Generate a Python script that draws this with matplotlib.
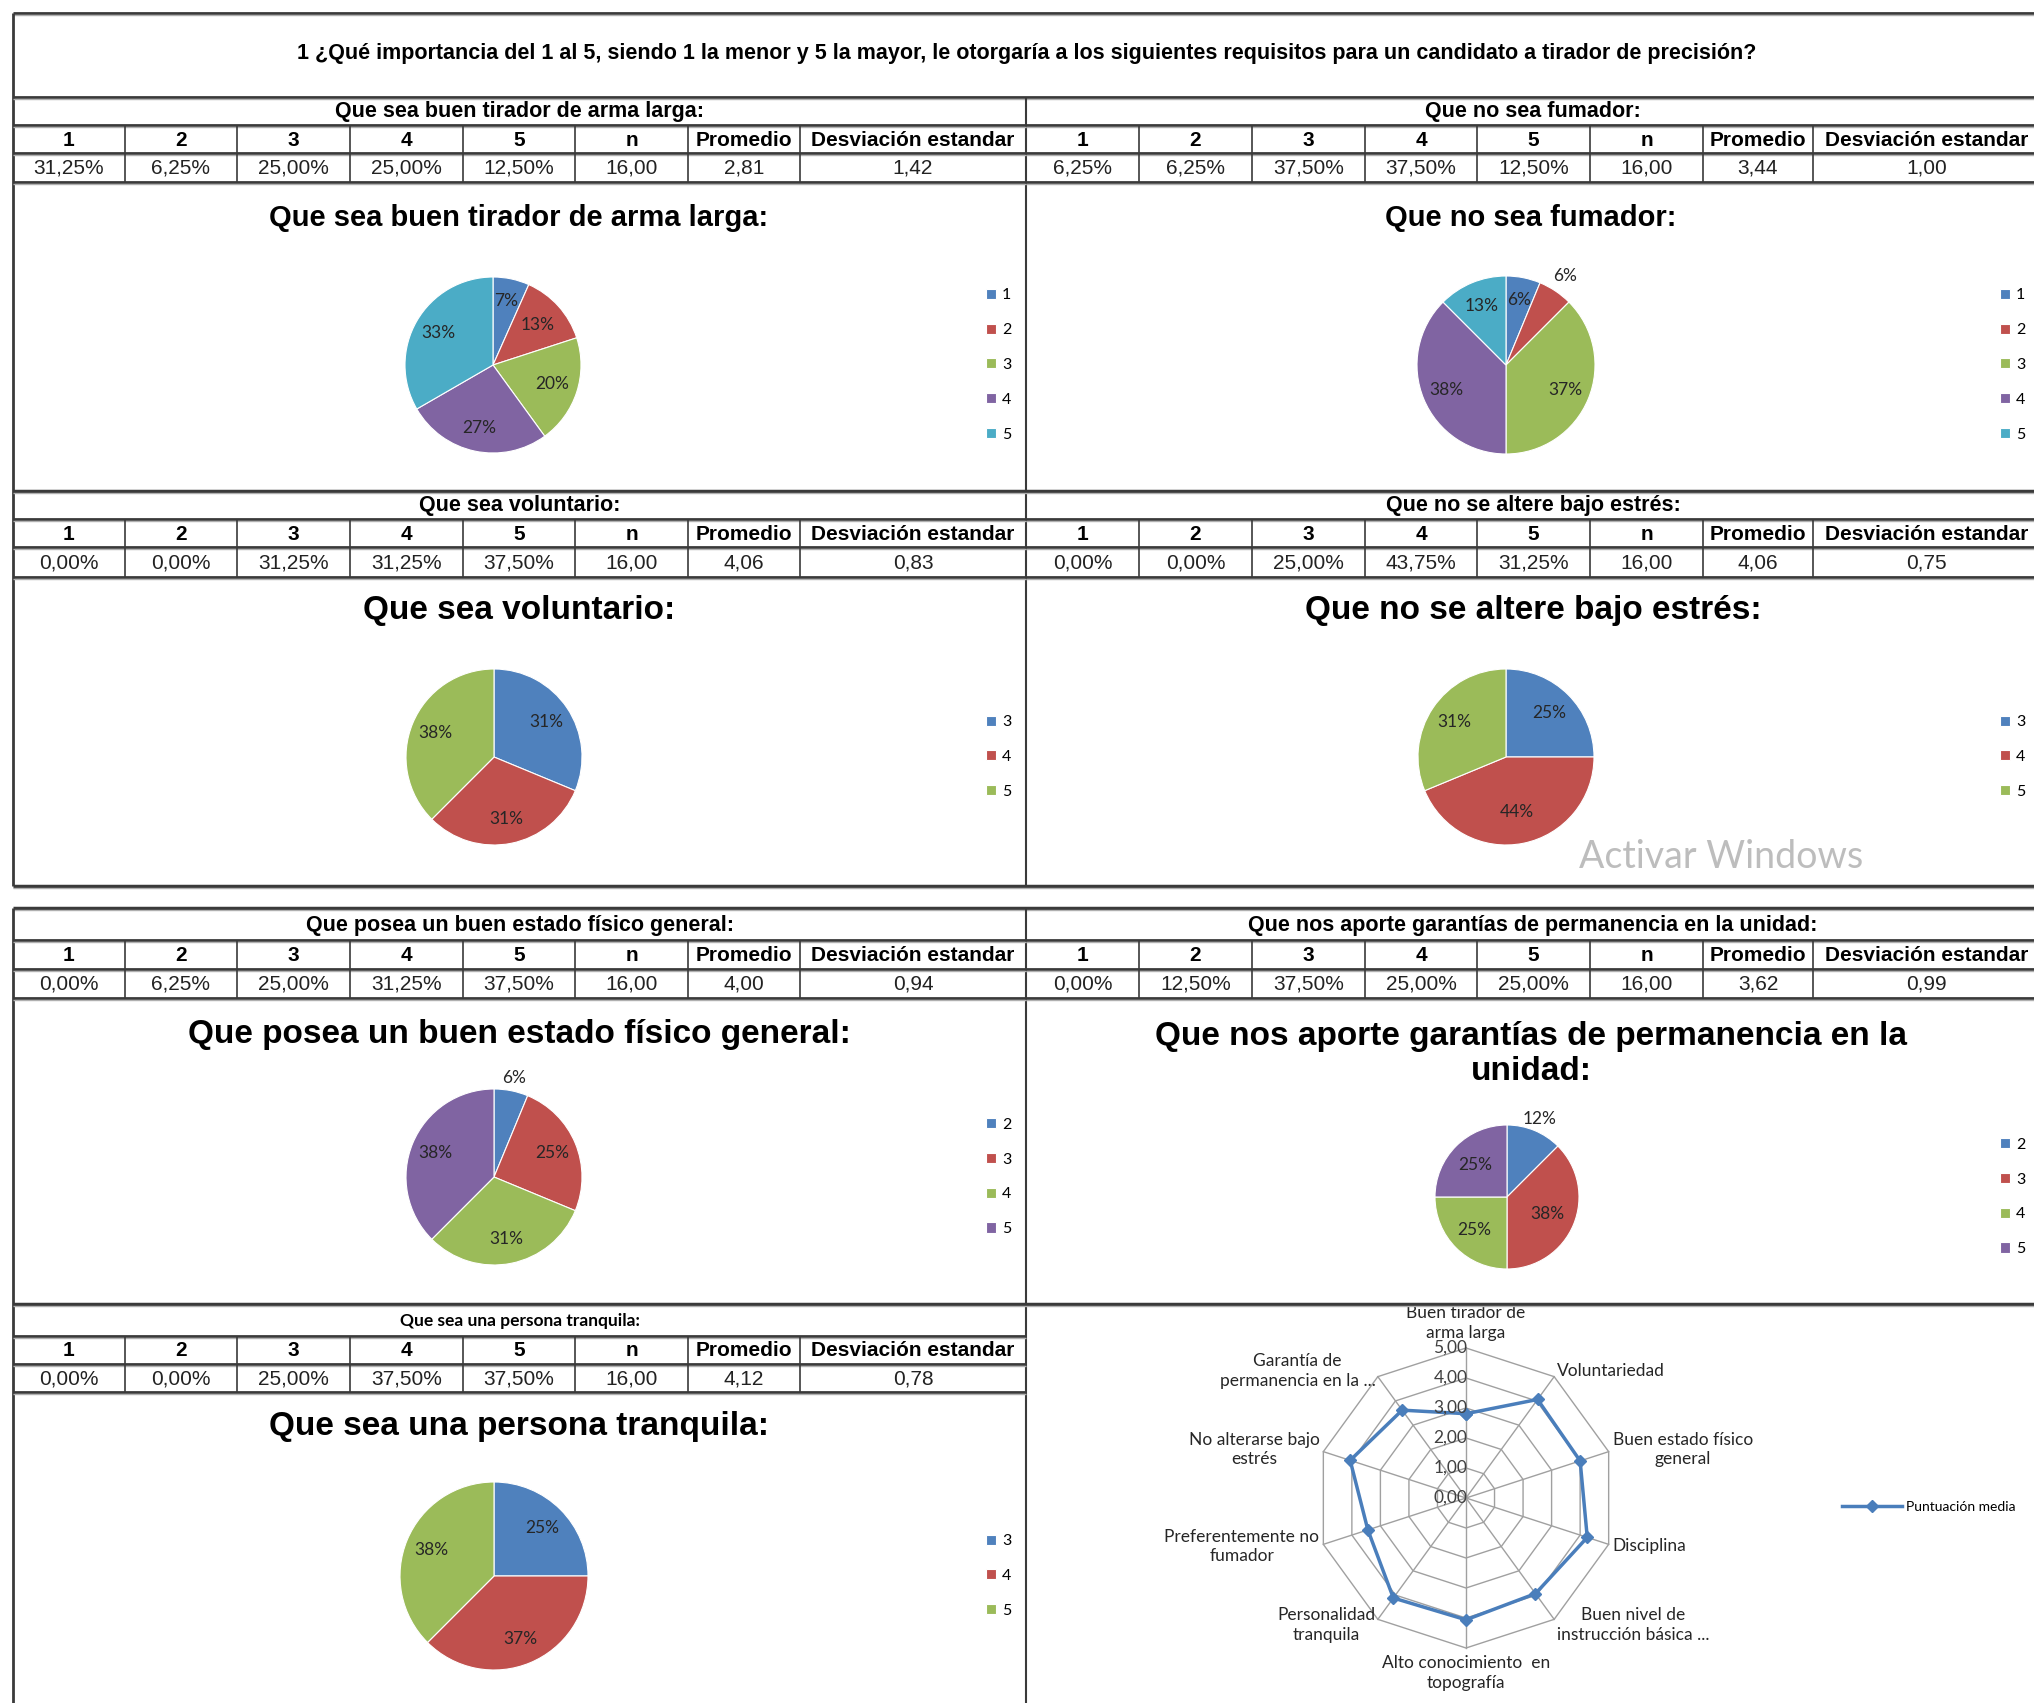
import numpy as np
import matplotlib
matplotlib.use('Agg')
import matplotlib.pyplot as plt
from matplotlib.lines import Line2D

plt.rcParams['font.family'] = ['Liberation Sans', 'DejaVu Sans']
CAL = ['Lato', 'DejaVu Sans']

W, H = 2034, 1703

question = ('1 ¿Qué importancia del 1 al 5, siendo 1 la menor y 5 la mayor, le otorgaría '
            'a los siguientes requisitos para un candidato a tirador de precisión?')
headers = ['1', '2', '3', '4', '5', 'n', 'Promedio', 'Desviación estandar']
pie_colors = ['#4F81BD', '#C0504D', '#9BBB59', '#8064A2', '#4BACC6']

# tables: % of answers 1..5, then n, promedio, desviacion
tirador_pct = [31.25, 6.25, 25.00, 25.00, 12.50]
tirador_stats = [16.00, 2.81, 1.42]
fumador_pct = [6.25, 6.25, 37.50, 37.50, 12.50]
fumador_stats = [16.00, 3.44, 1.00]
voluntario_pct = [0.00, 0.00, 31.25, 31.25, 37.50]
voluntario_stats = [16.00, 4.06, 0.83]
estres_pct = [0.00, 0.00, 25.00, 43.75, 31.25]
estres_stats = [16.00, 4.06, 0.75]
fisico_pct = [0.00, 6.25, 25.00, 31.25, 37.50]
fisico_stats = [16.00, 4.00, 0.94]
garantia_pct = [0.00, 12.50, 37.50, 25.00, 25.00]
garantia_stats = [16.00, 3.62, 0.99]
tranquila_pct = [0.00, 0.00, 25.00, 37.50, 37.50]
tranquila_stats = [16.00, 4.12, 0.78]

# pies (the first pie in the sheet is drawn from the scale 1..5, not from its table)
tirador_pie = [1, 2, 3, 4, 5]
tirador_cats = ['1', '2', '3', '4', '5']
tirador_lbl = ['7%', '13%', '20%', '27%', '33%']
fumador_pie = [6.25, 6.25, 37.50, 37.50, 12.50]
fumador_cats = ['1', '2', '3', '4', '5']
fumador_lbl = ['6%', '6%', '37%', '38%', '13%']
voluntario_pie = [31.25, 31.25, 37.50]
voluntario_cats = ['3', '4', '5']
voluntario_lbl = ['31%', '31%', '38%']
estres_pie = [25.00, 43.75, 31.25]
estres_cats = ['3', '4', '5']
estres_lbl = ['25%', '44%', '31%']
fisico_pie = [6.25, 25.00, 31.25, 37.50]
fisico_cats = ['2', '3', '4', '5']
fisico_lbl = ['6%', '25%', '31%', '38%']
garantia_pie = [12.50, 37.50, 25.00, 25.00]
garantia_cats = ['2', '3', '4', '5']
garantia_lbl = ['12%', '38%', '25%', '25%']
tranquila_pie = [25.00, 37.50, 37.50]
tranquila_cats = ['3', '4', '5']
tranquila_lbl = ['25%', '37%', '38%']

radar_cats = ['Buen tirador de\narma larga', 'Voluntariedad', 'Buen estado físico\ngeneral',
              'Disciplina', 'Buen nivel de\ninstrucción básica ...', 'Alto conocimiento  en\ntopografía',
              'Personalidad\ntranquila', 'Preferentemente no\nfumador', 'No alterarse bajo\nestrés',
              'Garantía de\npermanencia en la ...']
radar_vals = [2.81, 4.06, 4.00, 4.25, 3.94, 4.06, 4.12, 3.44, 4.06, 3.62]
radar_ticks = [0, 1, 2, 3, 4, 5]

LEFT = [13, 125, 237, 350, 463, 575, 688, 800, 1026]
RIGHT = [1026, 1139, 1252, 1365, 1477, 1590, 1703, 1813, 2040]
LINE = '#3a3a3a'

fig = plt.figure(figsize=(W / 100, H / 100), dpi=100, facecolor='white')
bg = fig.add_axes([0, 0, 1, 1])
bg.set_xlim(0, W)
bg.set_ylim(H, 0)
bg.axis('off')
bg.set_zorder(5)


def es(v, pct=False):
    s = '{:.2f}'.format(v).replace('.', ',')
    return s + '%' if pct else s


def hline(y, x0, x1, lw=2.0):
    bg.plot([x0, x1], [y, y], color=LINE, lw=lw, solid_capstyle='butt')
    bg.plot([x0, x1], [y + 2, y + 2], color='#b0b0b0', lw=1.0, solid_capstyle='butt')


def vline(x, y0, y1, lw=1.2):
    bg.plot([x, x], [y0, y1], color=LINE, lw=lw, solid_capstyle='butt')


def draw_table(edges, ys, title, pct, stats, small_title=False):
    y0, y1, y2, y3 = ys
    if small_title:
        bg.text((edges[0] + edges[-1]) / 2, (y0 + y1) / 2 + 1, title, ha='center', va='center',
                fontsize=12.5, fontweight='bold', family=CAL)
    else:
        bg.text((edges[0] + edges[-1]) / 2, (y0 + y1) / 2 + 1, title, ha='center', va='center',
                fontsize=15.5, fontweight='bold')
    vals = [es(v, True) for v in pct] + [es(v) for v in stats]
    for i, h in enumerate(headers):
        xc = (edges[i] + edges[i + 1]) / 2
        bg.text(xc, (y1 + y2) / 2 + 1, h, ha='center', va='center', fontsize=15, fontweight='bold')
        bg.text(xc, (y2 + y3) / 2 + 1, vals[i], ha='center', va='center', fontsize=15, color='#222222')
    for y in (y1, y2, y3):
        hline(y, edges[0], min(edges[-1], W))
    for x in edges[1:-1]:
        vline(x, y1, y3)


def pie_chart(cx, cy, r, vals, cats, lbls, dist, legend_x):
    side = 2.5 * r
    ax = fig.add_axes([(cx - side / 2) / W, 1 - (cy + side / 2) / H, side / W, side / H])
    wedges, _ = ax.pie(vals, colors=pie_colors[:len(vals)], startangle=90, counterclock=False,
                       wedgeprops=dict(edgecolor='white', linewidth=0.8))
    for w, lab, d in zip(wedges, lbls, dist):
        a = np.deg2rad((w.theta1 + w.theta2) / 2)
        ax.text(d * np.cos(a), d * np.sin(a), lab, ha='center', va='center',
                fontsize=12.5, family=CAL, color='#262626')
    fig.legend(wedges, cats, loc='center left', bbox_to_anchor=(legend_x / W, 1 - cy / H),
               frameon=False, prop={'family': CAL, 'size': 11.5}, handlelength=0.6,
               handleheight=0.6, handletextpad=0.4, labelspacing=1.3, borderpad=0,
               borderaxespad=0)


# ---- frame / borders
hline(13, 13, W)
vline(13, 13, 886, lw=2)
hline(97, 13, W)
vline(1026, 97, 886, lw=1.5)
hline(491, 13, W, lw=2.5)
hline(886, 13, W, lw=2.5)
hline(908, 13, W, lw=2.5)
vline(13, 908, H, lw=2)
vline(1026, 908, H, lw=1.5)
hline(1304, 13, W, lw=2.5)

bg.text(1027, 54, question, ha='center', va='center', fontsize=15.5, fontweight='bold')

# ---- tables
draw_table(LEFT, (97, 125, 153, 182), 'Que sea buen tirador de arma larga:', tirador_pct, tirador_stats)
draw_table(RIGHT, (97, 125, 153, 182), 'Que no sea fumador:', fumador_pct, fumador_stats)
draw_table(LEFT, (491, 519, 547, 577), 'Que sea voluntario:', voluntario_pct, voluntario_stats)
draw_table(RIGHT, (491, 519, 547, 577), 'Que no se altere bajo estrés:', estres_pct, estres_stats)
draw_table(LEFT, (910, 940, 969, 998), 'Que posea un buen estado físico general:', fisico_pct, fisico_stats)
draw_table(RIGHT, (910, 940, 969, 998), 'Que nos aporte garantías de permanencia en la unidad:',
           garantia_pct, garantia_stats)
draw_table(LEFT, (1304, 1336, 1364, 1392), 'Que sea una persona tranquila:', tranquila_pct,
           tranquila_stats, small_title=True)

# ---- chart titles
bg.text(519, 218, 'Que sea buen tirador de arma larga:', ha='center', va='center', fontsize=21, fontweight='bold')
bg.text(1531, 218, 'Que no sea fumador:', ha='center', va='center', fontsize=21, fontweight='bold')
bg.text(519, 611, 'Que sea voluntario:', ha='center', va='center', fontsize=24, fontweight='bold')
bg.text(1533, 611, 'Que no se altere bajo estrés:', ha='center', va='center', fontsize=24, fontweight='bold')
bg.text(519, 1034, 'Que posea un buen estado físico general:', ha='center', va='center', fontsize=24, fontweight='bold')
bg.text(1531, 1054, 'Que nos aporte garantías de permanencia en la\nunidad:', ha='center', va='center',
        fontsize=24, fontweight='bold', linespacing=1.2)
bg.text(519, 1427, 'Que sea una persona tranquila:', ha='center', va='center', fontsize=24, fontweight='bold')

bg.text(1579, 857, 'Activar Windows', ha='left', va='center', fontsize=27, color='#bdbdbd',
        family=CAL)

# ---- pies
inside = 0.72
pie_chart(493, 365, 88, tirador_pie, tirador_cats, tirador_lbl, [0.74, 0.68, 0.71, 0.73, 0.72], 986)
pie_chart(1506, 365, 89, fumador_pie, fumador_cats, fumador_lbl, [0.75, 1.2, inside, inside, inside], 2000)
pie_chart(494, 757, 88, voluntario_pie, voluntario_cats, voluntario_lbl, [inside] * 3, 986)
pie_chart(1506, 757, 88, estres_pie, estres_cats, estres_lbl, [0.7, 0.64, 0.71], 2000)
pie_chart(494, 1177, 88, fisico_pie, fisico_cats, fisico_lbl, [1.15, inside, inside, inside], 986)
pie_chart(1507, 1197, 72, garantia_pie, garantia_cats, garantia_lbl, [1.17, 0.6, 0.65, 0.63], 2000)
pie_chart(494, 1576, 94, tranquila_pie, tranquila_cats, tranquila_lbl, [inside] * 3, 986)

# ---- radar
rcx, rcy, rr = 1466, 1498, 150
rax = fig.add_axes([(rcx - rr) / W, 1 - (rcy + rr) / H, 2 * rr / W, 2 * rr / H], projection='polar')
rax.set_theta_zero_location('N')
rax.set_theta_direction(-1)
ang = np.linspace(0, 2 * np.pi, len(radar_cats), endpoint=False)
closed = np.append(ang, ang[0])
for lv in radar_ticks[1:]:
    rax.plot(closed, [lv] * len(closed), color='#a0a0a0', lw=1, clip_on=False)
for a in ang:
    rax.plot([a, a], [0, radar_ticks[-1]], color='#a0a0a0', lw=1, clip_on=False)
rax.plot(closed, radar_vals + radar_vals[:1], color='#4A7EBB', lw=2.5, marker='D', ms=6, clip_on=False)
rax.set_ylim(0, radar_ticks[-1])
rax.set_xticks([])
rax.set_yticks([])
rax.spines['polar'].set_visible(False)
rax.patch.set_alpha(0)

for lv in radar_ticks:
    rax.annotate(es(lv), xy=(0, lv), xytext=(1, 0), textcoords='offset points', ha='right',
                 va='center', fontsize=12.5, family=CAL, color='#404040', annotation_clip=False)

for a, lab in zip(ang, radar_cats):
    s, c = np.sin(a), np.cos(a)
    ha = 'left' if s > 0.1 else ('right' if s < -0.1 else 'center')
    va = 'bottom' if c > 0.9 else ('top' if c < -0.9 else 'center')
    rax.annotate(lab, xy=(a, radar_ticks[-1]), xytext=(3 * s, 5 * c), textcoords='offset points',
                 ha=ha, va=va, multialignment='center', fontsize=12.5, family=CAL, color='#262626',
                 annotation_clip=False, linespacing=1.3)

fig.legend([Line2D([0], [0], color='#4A7EBB', lw=2.5, marker='D', ms=6)], ['Puntuación media'],
           loc='center left', bbox_to_anchor=(1842 / W, 1 - 1507 / H), frameon=False,
           prop={'family': CAL, 'size': 10}, handlelength=4.3, handletextpad=0.3, borderpad=0,
           borderaxespad=0)

fig.savefig('out.png', dpi=100, facecolor='white')
